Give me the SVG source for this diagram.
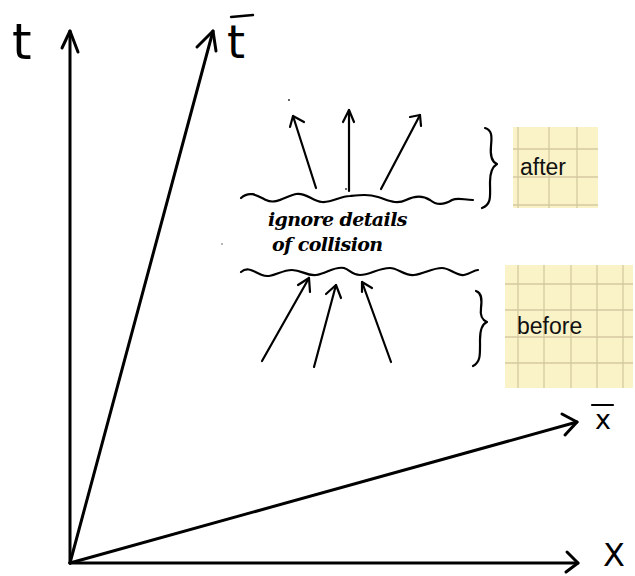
<svg xmlns="http://www.w3.org/2000/svg" width="635" height="576" viewBox="0 0 635 576">
<defs>
<style>
.ax{fill:none;stroke:#000;stroke-width:3;stroke-linecap:round;stroke-linejoin:round}
.ar{fill:none;stroke:#000;stroke-width:2.2;stroke-linecap:round;stroke-linejoin:round}
.wv{fill:none;stroke:#000;stroke-width:2.2;stroke-linecap:round}
.lbl{font-family:"DejaVu Sans",sans-serif;fill:#000}
.hand{font-family:"DejaVu Serif","Liberation Serif",serif;font-style:italic;font-weight:bold;font-size:19px;fill:#000;letter-spacing:-0.6px}
.box{fill:#fbf3c8}
.grid{stroke:#d4c9a0;stroke-width:1.3}
.bt{font-family:"Liberation Sans",Arial,sans-serif;font-size:23px;fill:#111}
</style>
</defs>
<rect width="635" height="576" fill="#fff"/>

<g id="connectors">
<g id="axes">
<line class="ax" x1="70" y1="563" x2="70" y2="31"/>
<path class="ax" d="M62,48 L70,31 L78,52"/>
<line class="ax" x1="70" y1="563" x2="213" y2="31"/>
<path class="ax" d="M197,47 L213,31 L216,51"/>
<line class="ax" x1="70" y1="563" x2="578" y2="563"/>
<path class="ax" d="M567,552 L578,563 L566,572"/>
<line class="ax" x1="70" y1="563" x2="577" y2="422"/>
<path class="ax" d="M562,414 L577,422 L565,435"/>
</g>
<g id="after-arrows">
<line class="ar" x1="316" y1="188" x2="293" y2="116"/>
<path class="ar" d="M290,127 L293,116 L304,122"/>
<line class="ar" x1="349" y1="191" x2="349" y2="110"/>
<path class="ar" d="M343,122 L349,110 L354,122"/>
<line class="ar" x1="381" y1="189" x2="420" y2="115"/>
<path class="ar" d="M410,117 L420,115 L421,126"/>
</g>
<g id="before-arrows">
<line class="ar" x1="262" y1="361" x2="309" y2="278"/>
<path class="ar" d="M298,285 L309,278 L310,292"/>
<line class="ar" x1="314" y1="367" x2="336" y2="285"/>
<path class="ar" d="M326,294 L336,285 L341,298"/>
<line class="ar" x1="391" y1="362" x2="362" y2="282"/>
<path class="ar" d="M362,292 L362,282 L372,288"/>
</g>
</g>

<g id="wave-top">
<path class="wv" d="M241,198 C250,190 258,196 266,200 C276,205 286,196 296,194 C306,192 312,201 322,202 C332,203 340,196 350,196 C360,195 368,194 378,197 C388,200 396,205 406,200 C416,195 424,196 430,200 C436,205 444,205 452,200 C458,197 464,200 473,200"/>
</g>
<g id="wave-bottom">
<path class="wv" d="M241,272 C248,266 254,272 262,275 C272,279 280,270 292,270 C302,270 306,276 316,275 C326,274 334,266 344,268 C350,270 352,275 360,275 C370,275 378,268 390,268 C398,268 404,276 414,275 C424,274 432,268 442,268 C450,268 456,276 464,275 C470,274 474,270 478,270"/>
</g>
<g id="collision-label">
<text class="hand" x="268" y="226">ignore details</text>
<text class="hand" x="272" y="251">of collision</text>
</g>

<g id="dots">
<circle cx="289" cy="100" r="1" fill="#333"/>
<circle cx="346" cy="189" r="1" fill="#333"/>
<circle cx="222" cy="244" r="0.8" fill="#555"/>
</g>

<g id="brace-after">
<path class="ar" d="M485,128 C492,130 492,136 491,146 C490,156 492,162 497,164 C492,167 490,172 490,182 C490,196 492,204 482,208"/>
</g>
<g id="brace-before">
<path class="ar" d="M476,291 C482,293 482,300 481,308 C480,315 482,320 487,322 C482,324 480,330 480,340 C480,354 481,362 473,366"/>
</g>

<g id="after-box">
<rect class="box" x="513" y="127" width="85" height="81"/>
<line class="grid" x1="518" y1="127" x2="518" y2="208"/>
<line class="grid" x1="549" y1="127" x2="549" y2="208"/>
<line class="grid" x1="577" y1="127" x2="577" y2="208"/>
<line class="grid" x1="513" y1="149" x2="598" y2="149"/>
<line class="grid" x1="513" y1="177" x2="598" y2="177"/>
<line class="grid" x1="513" y1="205" x2="598" y2="205"/>
<text class="bt" x="520" y="175">after</text>
</g>
<g id="before-box">
<rect class="box" x="505" y="265" width="128" height="123"/>
<line class="grid" x1="518" y1="265" x2="518" y2="388"/>
<line class="grid" x1="544" y1="265" x2="544" y2="388"/>
<line class="grid" x1="571" y1="265" x2="571" y2="388"/>
<line class="grid" x1="597" y1="265" x2="597" y2="388"/>
<line class="grid" x1="623" y1="265" x2="623" y2="388"/>
<line class="grid" x1="505" y1="284" x2="633" y2="284"/>
<line class="grid" x1="505" y1="310" x2="633" y2="310"/>
<line class="grid" x1="505" y1="337" x2="633" y2="337"/>
<line class="grid" x1="505" y1="363" x2="633" y2="363"/>
<text class="bt" x="517" y="334">before</text>
</g>

<g id="label-t">
<text class="lbl" x="12" y="59" font-size="50">t</text>
</g>
<g id="label-tbar">
<text class="lbl" x="227" y="58" font-size="46">t</text>
<line x1="231" y1="17" x2="253" y2="15" stroke="#000" stroke-width="2.4" stroke-linecap="round"/>
</g>
<g id="label-xbar">
<text class="lbl" x="595" y="429" font-size="27">x</text>
<line x1="592" y1="405" x2="613" y2="405" stroke="#000" stroke-width="2.2" stroke-linecap="round"/>
</g>
<g id="label-x">
<text class="lbl" x="603" y="566" font-size="32">X</text>
</g>
</svg>
